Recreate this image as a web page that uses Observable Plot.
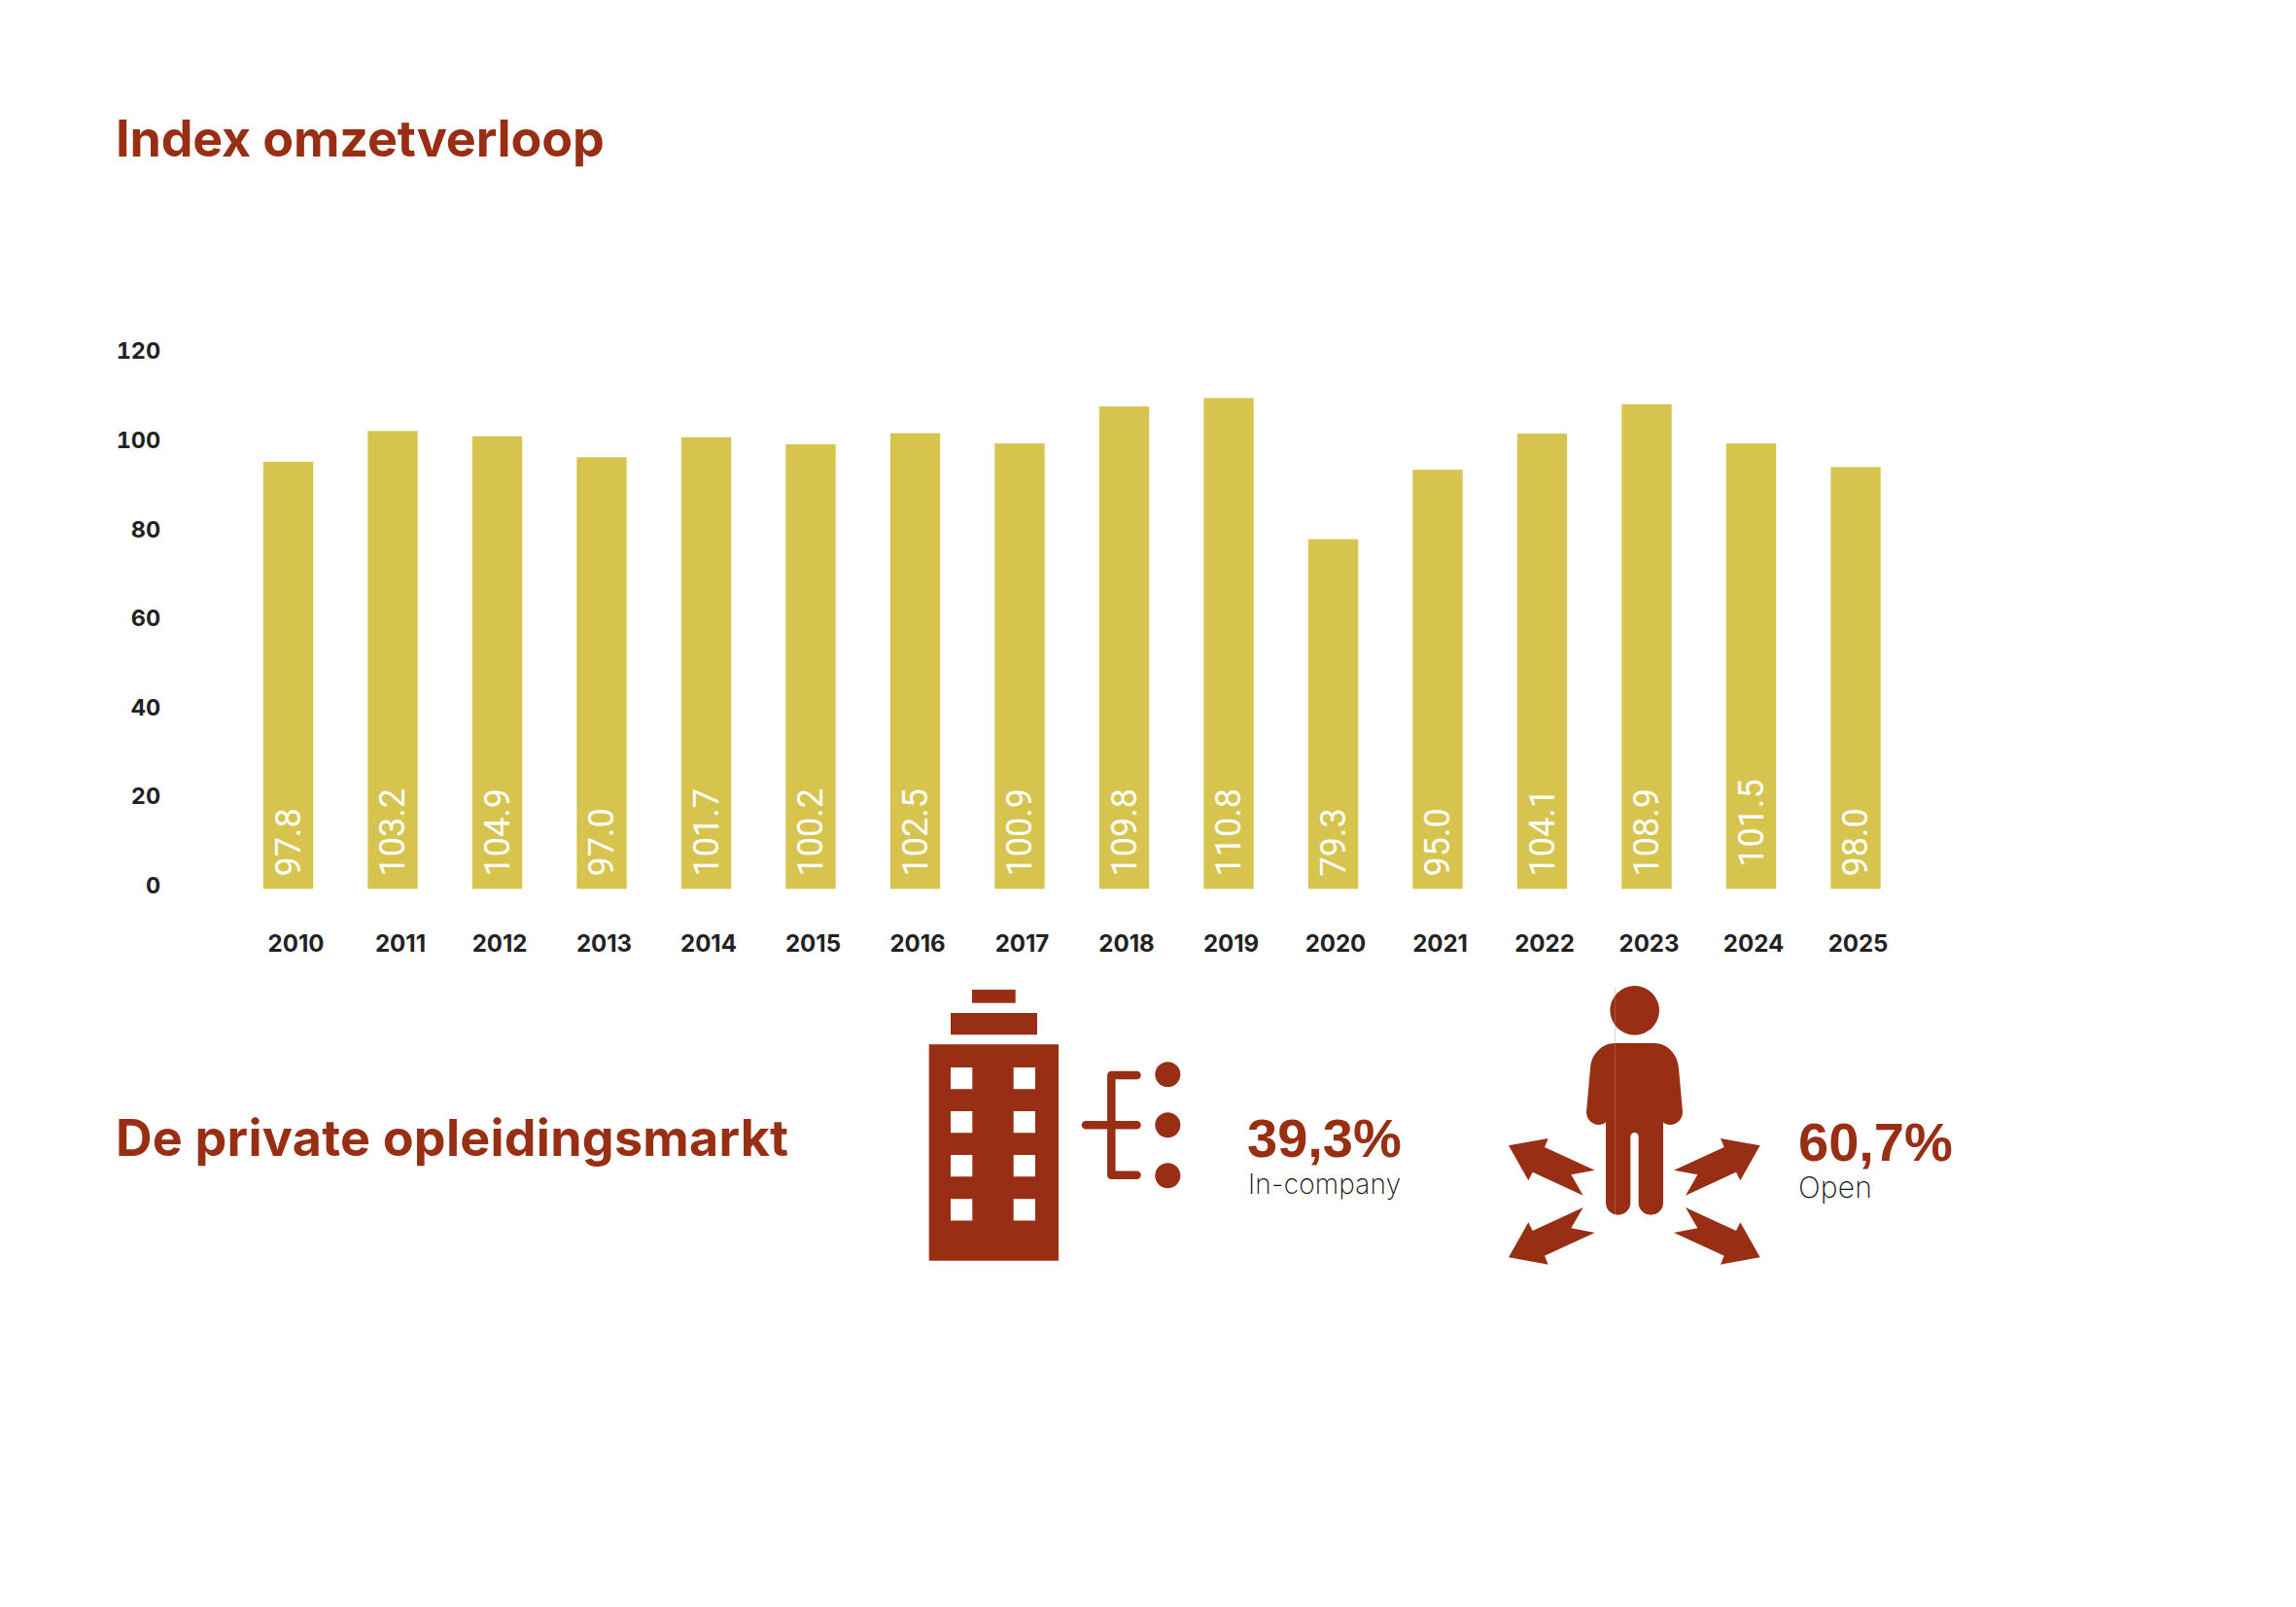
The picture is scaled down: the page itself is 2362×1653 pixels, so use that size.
<!DOCTYPE html>
<html lang="nl">
<head>
<meta charset="utf-8">
<title>Index omzetverloop</title>
<script src="https://cdn.jsdelivr.net/npm/d3@7"></script>
<script src="https://cdn.jsdelivr.net/npm/@observablehq/plot@0.6"></script>
<style>
  html, body { margin: 0; padding: 0; background: #fff; }
  #page { position: relative; width: 2362px; height: 1653px; overflow: hidden; }
  #chart, #overlay { position: absolute; left: 0; top: 0; }
  #chart svg { display: block; }
  .head { font: 700 52px "Inter", sans-serif; fill: #982f14; }
  .pct { font: 700 56px "Liberation Sans", sans-serif; fill: #982f14; }
  .sub { font: 250 28px "Inter", sans-serif; fill: #111; letter-spacing: 0.2px; }
  .icon { fill: #982f14; }
</style>
</head>
<body>
<div id="page">
  <div id="chart"></div>
  <svg id="overlay" width="2362" height="1653" viewBox="0 0 2362 1653">
    <text class="head" x="119" y="161" style="letter-spacing:-0.15px">Index omzetverloop</text>
    <text class="head" x="119" y="1189" style="letter-spacing:0.25px">De private opleidingsmarkt</text>

    <g class="icon">
      <rect x="1000" y="1018" width="44.7" height="13.7"/>
      <rect x="978" y="1042" width="89" height="22.3"/>
      <path fill-rule="evenodd" d="M955.7 1074.3H1089V1296.7H955.7Z
        M978 1098h22.3v22.3H978Z M1042.7 1098H1065v22.3h-22.3Z
        M978 1143h22.3v22.3H978Z M1042.7 1143H1065v22.3h-22.3Z
        M978 1188h22.3v22.3H978Z M1042.7 1188H1065v22.3h-22.3Z
        M978 1233.3h22.3v22.3H978Z M1042.7 1233.3H1065v22.3h-22.3Z"/>
      <path d="M1169.5 1106H1143.3V1208.7H1169.5M1117 1157.3H1169.5" fill="none" stroke="#982f14" stroke-width="8.5" stroke-linecap="round" stroke-linejoin="round"/>
      <circle cx="1201.3" cy="1105.3" r="13"/>
      <circle cx="1201.3" cy="1157.3" r="13"/>
      <circle cx="1201.3" cy="1209.3" r="13"/>
    </g>
    <text class="pct" x="1283" y="1190">39,3%</text>
    <text class="sub" x="1284" y="1228">In-company</text>

    <g class="icon" transform="translate(1530 999) scale(0.33333)">
      <circle cx="455" cy="121" r="76"/>
      <path d="M395 222H515C555 222 588 255 591 300L603 435C603 457 585 474 565 474C556 474 548 472 543 466V715C543 736 526 752 505 752C484 752 467 736 467 715V512C467 503 462 498 455 498C448 498 442 503 442 512V715C442 736 425 752 404 752C383 752 366 736 366 715V466C361 472 353 474 344 474C324 474 306 457 306 435L318 300C321 255 354 222 395 222Z"/>
      <path d="M395 48V750" stroke="#c98f7c" stroke-width="2" opacity="0.7"/>
      <g id="arrows">
        <path id="arr" d="M66 538L188 516L177 543L332 614L259 628L296 692L140 620L127 646Z"/>
        <use href="#arr" transform="translate(908 0) scale(-1 1)"/>
        <use href="#arr" transform="translate(0 1421) scale(1 -1)"/>
        <use href="#arr" transform="translate(908 1421) scale(-1 -1)"/>
      </g>
    </g>
    <text class="pct" x="1859" y="1194" text-anchor="start" dx="-9">60,7%</text>
    <text class="sub" x="1850" y="1232" style="font-size:30px">Open</text>
  </svg>
</div>
<script>
const years = ["2010","2011","2012","2013","2014","2015","2016","2017","2018","2019","2020","2021","2022","2023","2024","2025"];
const barHeights = [95.2,102.1,100.9,96.2,100.7,99.1,101.6,99.3,107.6,109.5,77.8,93.4,101.5,108.1,99.3,94];
const printedLabels = ["97.8","103.2","104.9","97.0","101.7","100.2","102.5","100.9","109.8","110.8","79.3","95.0","104.1","108.9","101.5","98.0"];
const yTicks = [0,20,40,60,80,100,120];
const barBase = -0.72;
const labelBase = 2.2;
const raisedLabelBase = 4.3;
const raisedLabelYear = "2024";

const rows = years.map((year, i) => ({year, height: barHeights[i], label: printedLabels[i]}));

const yearAxis = (ticks, dx) => Plot.axisX({
  ticks,
  tickSize: 0,
  tickPadding: 50,
  dx,
  label: null,
  fontSize: 24,
  fontWeight: 700,
  fill: "#222"
});

const chart = Plot.plot({
  width: 2362,
  height: 1000,
  marginLeft: 242.75,
  marginRight: 399.25,
  marginTop: 361.3,
  marginBottom: 89,
  style: {fontFamily: "Inter, sans-serif", background: "transparent"},
  x: {domain: years, paddingInner: 0.522, paddingOuter: 0.261, round: false, label: null},
  y: {domain: [0, 120], label: null},
  marks: [
    Plot.barY(rows, {x: "year", y1: () => barBase, y2: "height", fill: "#d7c44f"}),
    Plot.text(rows, {
      x: "year",
      y: d => d.year === raisedLabelYear ? raisedLabelBase : labelBase,
      text: "label",
      rotate: -90,
      textAnchor: "start",
      lineAnchor: "middle",
      fill: "#fff",
      fontFamily: "Roboto, sans-serif",
      fontWeight: 400,
      fontSize: 36
    }),
    Plot.axisY({
      ticks: yTicks,
      tickSize: 0,
      tickPadding: 78,
      tickFormat: d => String(d),
      label: null,
      fontSize: 23.5,
      fontWeight: 700,
      fill: "#222"
    }),
    yearAxis(years.slice(0, 2), 7.5),
    yearAxis(years.slice(2), 2)
  ]
});
document.getElementById("chart").append(chart);
</script>
</body>
</html>
